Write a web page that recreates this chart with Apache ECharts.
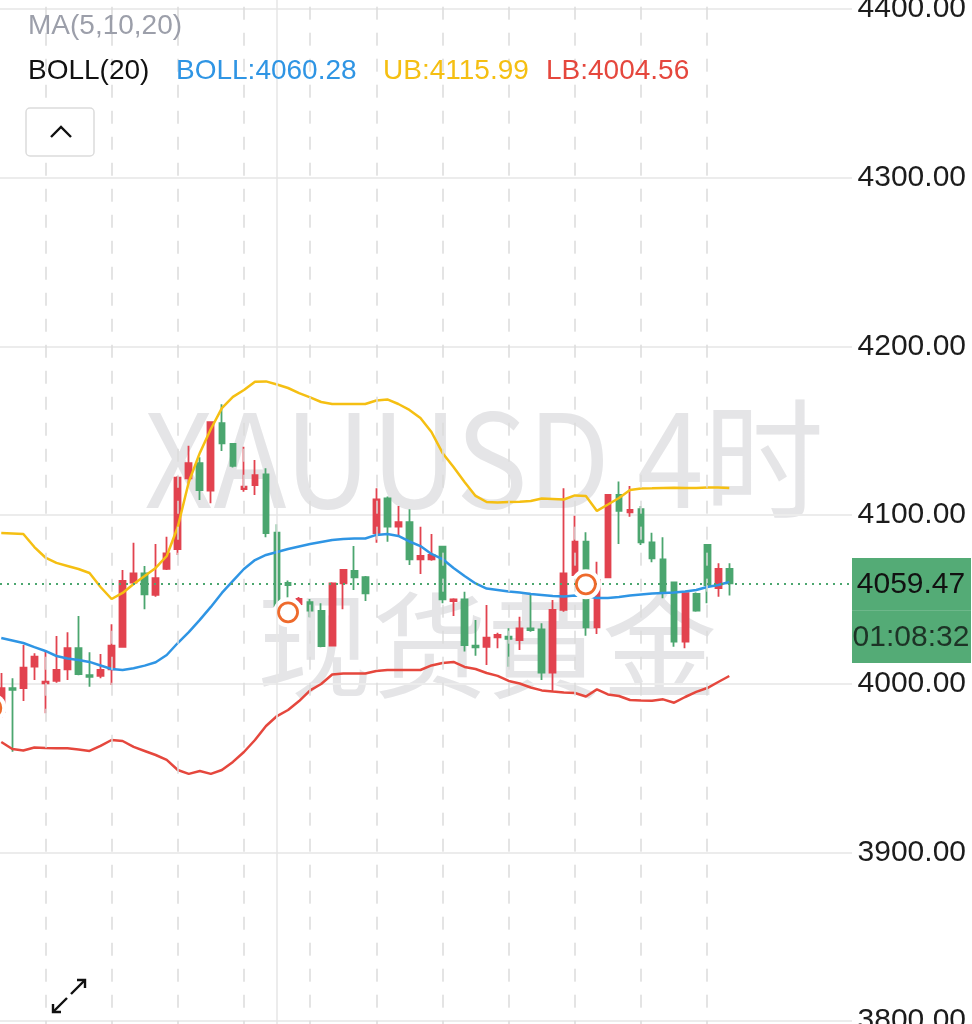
<!DOCTYPE html>
<html><head><meta charset="utf-8">
<script src="https://cdn.jsdelivr.net/npm/echarts@6.0.0/dist/echarts.min.js"></script>
<style>html,body{margin:0;padding:0;background:#fff;overflow:hidden}#c{width:972px;height:1024px}</style>
</head><body><div id="c"></div>
<script>
// ---- data (4-hour candles) ----
const opens  = [3983.2,3997.4,3997.3,4010.1,4000.2,4001.6,4008.5,4021.0,4005.1,4004.7,4008.5,4021.9,4059.9,4065.4,4052.6,4068.0,4079.8,4121.8,4130.7,4114.4,4154.4,4142.1,4115.4,4117.8,4124.1,4089.5,4059.7,4047.2,4048.3,4043.1,4022.5,4059.5,4066.8,4063.1,4089.3,4109.9,4093.1,4095.7,4073.7,4073.7,4081.2,4049.0,4050.0,4022.5,4021.9,4027.5,4027.9,4025.9,4032.8,4032.2,4006.5,4043.7,4064.4,4084.2,4033.4,4063.1,4111.9,4101.6,4103.4,4083.8,4073.7,4060.1,4024.9,4053.2,4082.2,4056.6,4068.0];
const closes = [3997.4,3996.3,4009.5,4016.0,4001.2,4008.1,4021.0,4005.6,4004.1,4008.1,4022.5,4060.9,4065.4,4053.0,4062.5,4077.3,4122.1,4130.7,4114.8,4155.0,4142.5,4129.2,4116.8,4123.7,4089.2,4046.0,4058.5,4050.2,4043.3,4022.3,4059.5,4067.4,4063.1,4053.6,4109.3,4093.1,4095.7,4073.7,4075.7,4076.3,4050.0,4050.0,4022.9,4021.6,4027.3,4028.9,4026.5,4032.8,4031.8,4006.5,4043.7,4065.4,4084.2,4033.4,4061.5,4111.9,4102.4,4103.0,4083.8,4074.3,4054.9,4024.9,4053.6,4043.3,4058.5,4068.0,4059.47];
const lows   = [3979.7,3959.7,3989.7,4002.2,3982.4,4000.6,4002.2,4005.0,3998.2,4003.2,3999.2,4021.5,4058.5,4044.1,4051.6,4067.4,4076.3,4118.8,4108.9,4106.9,4138.0,4128.1,4113.8,4111.9,4086.8,4044.7,4049.6,4046.0,4039.4,4021.6,4022.3,4044.1,4055.5,4049.0,4083.6,4084.2,4087.1,4070.4,4065.0,4072.9,4047.7,4040.1,4019.0,4016.6,4011.1,4021.0,4010.1,4020.0,4030.8,4002.2,3995.3,4042.7,4063.8,4028.4,4029.5,4062.7,4082.8,4099.0,4082.2,4072.0,4050.6,4021.9,4021.0,4042.7,4047.7,4051.6,4052.2];
const highs  = [4006.3,4003.2,4022.9,4018.0,4020.0,4028.3,4030.5,4040.1,4018.6,4017.6,4035.2,4067.4,4083.6,4069.8,4082.8,4087.1,4123.1,4141.1,4134.2,4155.3,4165.6,4142.3,4140.5,4132.6,4127.7,4094.5,4061.1,4051.4,4050.2,4047.7,4060.1,4068.0,4081.6,4063.8,4115.8,4110.9,4105.3,4103.4,4093.1,4088.7,4081.5,4050.6,4054.5,4037.8,4046.6,4030.2,4032.8,4039.7,4052.6,4035.8,4049.6,4115.8,4099.6,4089.7,4072.3,4112.5,4119.8,4117.2,4105.3,4089.5,4086.8,4060.5,4054.0,4054.0,4082.5,4071.4,4071.4];
const bollUpper = [4089.3,4089.0,4088.7,4081.0,4074.8,4071.6,4069.8,4068.0,4065.6,4057.3,4050.2,4053.8,4059.1,4063.8,4068.6,4075.7,4092.9,4119.6,4136.8,4151.0,4163.4,4170.0,4174.1,4179.0,4179.2,4177.4,4175.3,4172.3,4169.7,4167.0,4165.8,4165.8,4165.8,4165.8,4167.9,4168.5,4165.8,4162.3,4157.5,4149.2,4136.8,4128.5,4119.6,4111.3,4107.7,4107.4,4107.7,4107.9,4108.3,4109.8,4109.5,4109.2,4111.6,4111.3,4102.4,4106.2,4110.1,4114.8,4115.7,4115.8,4116.0,4116.2,4116.0,4116.0,4116.3,4116.3,4115.99];
const bollMid   = [4027.1,4025.6,4024.1,4021.7,4019.4,4016.4,4014.9,4014.0,4012.9,4010.8,4008.7,4008.1,4009.1,4010.7,4012.7,4017.0,4024.1,4030.6,4037.8,4045.5,4053.8,4060.9,4068.0,4073.3,4076.3,4078.1,4079.8,4081.3,4082.8,4084.0,4085.2,4085.8,4086.1,4086.1,4088.2,4088.7,4087.6,4084.3,4081.6,4076.9,4073.9,4068.6,4063.8,4059.4,4056.4,4055.5,4054.6,4054.1,4053.2,4052.6,4052.0,4051.7,4052.3,4052.0,4050.8,4050.8,4051.4,4052.3,4052.9,4053.5,4053.8,4054.1,4054.6,4055.5,4057.3,4058.5,4060.28];
const bollLower = [3965.4,3961.3,3960.4,3962.2,3961.9,3961.7,3961.7,3961.0,3960.1,3963.1,3966.6,3966.0,3962.5,3960.1,3957.7,3954.8,3948.8,3946.5,3948.2,3946.5,3948.8,3953.6,3959.5,3966.6,3974.9,3980.8,3984.4,3989.7,3996.0,3999.8,4005.4,4006.0,4006.0,4006.0,4007.5,4008.1,4008.1,4008.1,4008.1,4010.8,4012.3,4012.9,4009.9,4008.7,4006.3,4004.6,4001.6,4000.1,3997.7,3996.0,3995.3,3994.8,3994.5,3992.4,3996.6,3993.6,3992.7,3990.3,3990.0,3989.9,3990.7,3988.7,3992.1,3995.1,3997.4,4001.0,4004.56];
const markerIdx   = [-0.9, 26, 53];
const markerPrice = [3985.6, 4042.3, 4058.9];
const dayLines = [4, 10, 16, 22, 28, 34, 40, 46, 52, 58, 64];
const weekLine = 25;
const yTickValues = [3800, 3900, 4000, 4100, 4200, 4300, 4400];
const yTickLabels = ['3800.00','3900.00','4000.00','4100.00','4200.00','4300.00','4400.00'];
const lastPrice = 4059.47;
const lastPriceText = '4059.47';
const countdownText = '01:08:32';
const legendMA = 'MA(5,10,20)';
const legendBoll = ['BOLL(20)', 'BOLL:4060.28', 'UB:4115.99', 'LB:4004.56'];
const watermark = ['XAUUSD 4时', '现货黄金'];

// ---- build ----
const UP = '#e2434f', DOWN = '#4ba66f';
const candleData = opens.map((o, i) => [i, o, closes[i], lows[i], highs[i]]);
const pts = arr => arr.map((v, i) => [i, v]);
const tickMap = {};
yTickValues.forEach((v, i) => tickMap[v] = yTickLabels[i]);
const FONT = "'Liberation Sans', Arial, sans-serif";

const chart = echarts.init(document.getElementById('c'));
chart.setOption({
  animation: false,
  backgroundColor: '#fff',
  // y range 3700..4500 so that 4400 sits at y=9 and 3800 at y=1021; grid reaches past the canvas
  grid: { left: 0, right: 120, top: -159.67, bottom: -165.67, outerBoundsMode: 'none', containLabel: false },
  xAxis: { type: 'value', min: -0.115, max: 77.125, show: false },
  yAxis: {
    type: 'value', min: 3700, max: 4500, interval: 100, position: 'right',
    axisLine: { show: false }, axisTick: { show: false },
    splitLine: { lineStyle: { color: '#ececec', width: 2 } },
    axisLabel: {
      formatter: v => tickMap[v] || '', align: 'right', margin: 114,
      fontSize: 30, color: '#1c1c1c', fontFamily: FONT
    }
  },
  series: [
    {
      type: 'line', data: [], z: 1, silent: true,
      markLine: {
        silent: true, symbol: 'none', label: { show: false },
        lineStyle: { color: '#dcdcdc', width: 1.5, type: [13, 13] },
        data: dayLines.map(d => ({ xAxis: d })).concat([
          { xAxis: weekLine, lineStyle: { color: '#e6e6e6', width: 1.5, type: 'solid' } }
        ])
      }
    },
    {
      type: 'candlestick', z: 2, barWidth: 6.2,
      encode: { x: 0, y: [1, 2, 3, 4] },
      data: candleData,
      itemStyle: { color: UP, color0: DOWN, borderColor: UP, borderColor0: DOWN, borderWidth: 1.8 },
      markLine: {
        silent: true, symbol: 'none', label: { show: false },
        lineStyle: { color: DOWN, width: 2, type: [2, 5] },
        data: [{ yAxis: lastPrice }]
      }
    },
    { type: 'line', z: 3, data: pts(bollUpper), showSymbol: false, lineStyle: { color: '#f5bf12', width: 2.5 } },
    { type: 'line', z: 3, data: pts(bollMid), showSymbol: false, lineStyle: { color: '#2f95e4', width: 2.5 } },
    { type: 'line', z: 3, data: pts(bollLower), showSymbol: false, lineStyle: { color: '#e5473d', width: 2.5 } },
    {
      type: 'scatter', z: 4, clip: false, silent: true, symbolSize: 30,
      data: markerIdx.map((x, i) => [x, markerPrice[i]]),
      itemStyle: { color: '#ffffff', opacity: 1 }
    },
    {
      type: 'scatter', z: 5, clip: false, silent: true, symbolSize: 19,
      data: markerIdx.map((x, i) => [x, markerPrice[i]]),
      itemStyle: { color: '#ffffff', borderColor: '#ee6a2c', borderWidth: 2.8, opacity: 1 }
    }
  ],
  graphic: [
    { type: 'text', z: -10, x: 484, y: 459, scaleY: 1.08, silent: true,
      style: { text: watermark[0], fill: '#e5e5e7', fontSize: 120, fontFamily: "'Noto Sans CJK SC', sans-serif", align: 'center', verticalAlign: 'middle' } },
    { type: 'text', z: -10, x: 487, y: 645, silent: true,
      style: { text: watermark[1], fill: '#e5e5e7', fontSize: 115, fontFamily: "'Noto Sans CJK SC', sans-serif", align: 'center', verticalAlign: 'middle' } },
    { type: 'text', z: 10, x: 28, y: 26, style: { text: legendMA, fill: '#9c9faa', fontSize: 28, fontFamily: FONT, verticalAlign: 'middle' } },
    { type: 'text', z: 10, x: 28, y: 71, style: { text: legendBoll[0], fill: '#111', fontSize: 28, fontFamily: FONT, verticalAlign: 'middle' } },
    { type: 'text', z: 10, x: 176, y: 71, style: { text: legendBoll[1], fill: '#2f95e4', fontSize: 28, fontFamily: FONT, verticalAlign: 'middle' } },
    { type: 'text', z: 10, x: 383, y: 71, style: { text: legendBoll[2], fill: '#f5bf12', fontSize: 28, fontFamily: FONT, verticalAlign: 'middle' } },
    { type: 'text', z: 10, x: 546, y: 71, style: { text: legendBoll[3], fill: '#e5473d', fontSize: 28, fontFamily: FONT, verticalAlign: 'middle' } },
    { type: 'rect', z: 10, shape: { x: 26, y: 108, width: 68, height: 48, r: 4 }, style: { fill: '#fff', stroke: '#dcdcdc', lineWidth: 1.5 } },
    { type: 'polyline', z: 11, shape: { points: [[51, 137], [61, 127], [71, 137]] }, style: { stroke: '#111', lineWidth: 2.4, fill: null } },
    // expand icon
    { type: 'polyline', z: 11, shape: { points: [[71, 994], [85, 980]] }, style: { stroke: '#111', lineWidth: 2.4, fill: null } },
    { type: 'polyline', z: 11, shape: { points: [[77, 980], [85, 980], [85, 988]] }, style: { stroke: '#111', lineWidth: 2.4, fill: null } },
    { type: 'polyline', z: 11, shape: { points: [[67, 998], [53, 1012]] }, style: { stroke: '#111', lineWidth: 2.4, fill: null } },
    { type: 'polyline', z: 11, shape: { points: [[53, 1004], [53, 1012], [61, 1012]] }, style: { stroke: '#111', lineWidth: 2.4, fill: null } },
    // last price box
    { type: 'rect', z: 10, shape: { x: 852, y: 558, width: 119, height: 105 }, style: { fill: '#54ab76' } },
    { type: 'rect', z: 11, shape: { x: 852, y: 610, width: 119, height: 1 }, style: { fill: 'rgba(255,255,255,0.15)' } },
    { type: 'text', z: 12, x: 911, y: 585, style: { text: lastPriceText, fill: '#111', fontSize: 30, fontFamily: FONT, align: 'center', verticalAlign: 'middle' } },
    { type: 'text', z: 12, x: 911, y: 638, style: { text: countdownText, fill: '#1d3326', fontSize: 30, fontFamily: FONT, align: 'center', verticalAlign: 'middle' } }
  ]
});
</script></body></html>
